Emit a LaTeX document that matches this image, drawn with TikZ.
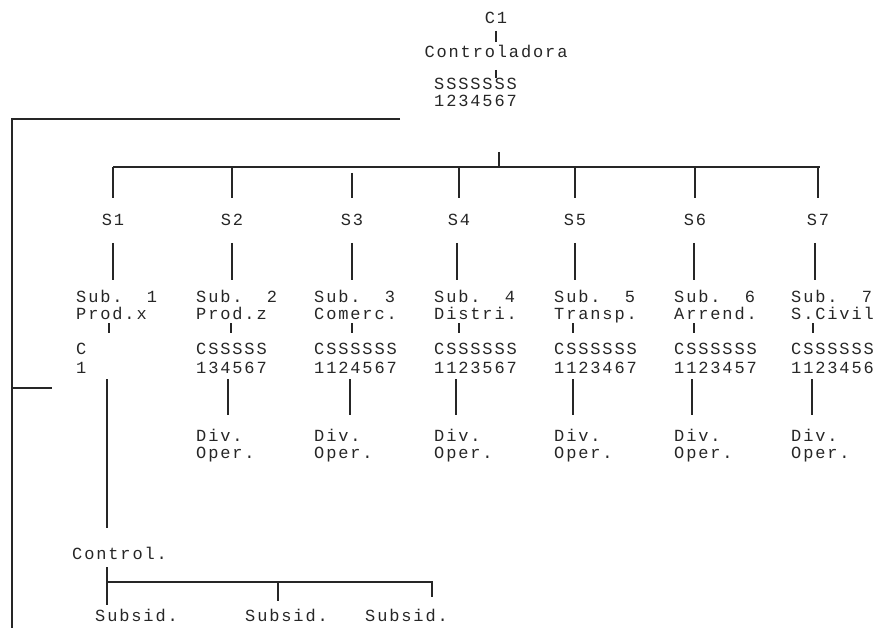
\documentclass[tikz,border=0pt]{standalone}
\usepackage{fontspec}
\setmonofont[LetterSpace=11]{Liberation Mono}
\begin{document}
\begin{tikzpicture}[x=1pt,y=-1pt,
  lbl/.style={font=\ttfamily\fontsize{17}{17}\selectfont, text=black!85,
              inner sep=0pt, anchor=base west},
  clbl/.style={lbl, anchor=base},
  wire/.style={line width=1.5pt, draw=black!85}]
\useasboundingbox (0,0) rectangle (880,628);

% ---- holding company at the top
\node[clbl] (c1)  at (496,24)  {C1};
\node[clbl] (ctl) at (496,58)  {Controladora};
\node[lbl]  (ss)  at (434,90)  {SSSSSSS};
\node[lbl]  (sn)  at (434,107) {1234567};

\coordinate (c1b)  at (496,31);  \coordinate (ctlt) at (496,42);
\coordinate (ctlb) at (496,70);  \coordinate (sst)  at (496,78);
\coordinate (snb)  at (499,152); \coordinate (busm) at (499,166);
\draw[wire] (c1b) -- (ctlt);
\draw[wire] (ctlb) -- (sst);
\draw[wire] (snb) -- (busm);

% ---- bus feeding S1 ... S7
\coordinate (busl) at (113,167); \coordinate (busr) at (820,167);
\draw[wire] (busl) -- (busr);

% ---- left-hand control loop
\coordinate (lt)  at (400,119);
\coordinate (lc)  at (12,119);
\coordinate (lb)  at (12,628);
\coordinate (lm)  at (12,388);
\coordinate (lme) at (52,388);
\draw[wire] (lt) -- (lc) -- (lb);
\draw[wire] (lm) -- (lme);

% ---- seven subsidiaries
% sx: label centre, tx: text start, ax: line below label,
% bx: short tick, dx: line down to the division, ty: top of the bus drop
\foreach \i/\sx/\tx/\ax/\bx/\dx/\ty/\na/\nb/\cc/\cd in {
  1/113/76/113/109/107/167/{Sub.~~1}/{Prod.x}/C/1,
  2/232/196/232/231/228/167/{Sub.~~2}/{Prod.z}/CSSSSS/134567,
  3/352/314/352/352/350/173/{Sub.~~3}/{Comerc.}/CSSSSSS/1124567,
  4/459/434/457/459/456/167/{Sub.~~4}/{Distri.}/CSSSSSS/1123567,
  5/575/554/575/573/573/167/{Sub.~~5}/{Transp.}/CSSSSSS/1123467,
  6/695/674/694/694/692/167/{Sub.~~6}/{Arrend.}/CSSSSSS/1123457,
  7/818/791/815/813/812/167/{Sub.~~7}/{S.Civil}/CSSSSSS/1123456}{
  \node[clbl] (s\i) at (\sx,226) {S\i};
  \node[lbl] (sub\i) at (\tx,302) {\na};
  \node[lbl] (act\i) at (\tx,319) {\nb};
  \node[lbl] (cs\i)  at (\tx,354) {\cc};
  \node[lbl] (num\i) at (\tx,373) {\cd};
  \coordinate (bt\i) at (\sx,\ty);
  \coordinate (bb\i) at (\sx,198);
  \coordinate (at\i) at (\ax,243);
  \coordinate (ab\i) at (\ax,280);
  \coordinate (kt\i) at (\bx,323);
  \coordinate (kb\i) at (\bx,333);
  \coordinate (dt\i) at (\dx,379);
  \draw[wire] (bt\i) -- (bb\i);
  \draw[wire] (at\i) -- (ab\i);
  \draw[wire] (kt\i) -- (kb\i);
}

% ---- operating divisions of S2 ... S7
\foreach \i/\tx/\dx in {2/196/228,3/314/350,4/434/456,5/554/573,6/674/692,7/791/812}{
  \node[lbl] (div\i) at (\tx,441) {Div.};
  \node[lbl] (op\i)  at (\tx,458) {Oper.};
  \coordinate (db\i) at (\dx,415);
  \draw[wire] (dt\i) -- (db\i);
}

% ---- S1 control branch
\node[lbl] (ctrl) at (72,559) {Control.};
\coordinate (db1) at (107,528);
\draw[wire] (dt1) -- (db1);

\coordinate (ct)  at (107,567);
\coordinate (cb)  at (107,605);
\coordinate (cj)  at (107,582);
\coordinate (cm)  at (278,582);
\coordinate (cmb) at (278,601);
\coordinate (cr)  at (432,582);
\coordinate (crb) at (432,597);
\draw[wire] (ct) -- (cb);
\draw[wire] (cj) -- (cr) -- (crb);
\draw[wire] (cm) -- (cmb);

\node[lbl] (sd1) at (95,621)  {Subsid.};
\node[lbl] (sd2) at (245,621) {Subsid.};
\node[lbl] (sd3) at (365,621) {Subsid.};
\end{tikzpicture}
\end{document}
